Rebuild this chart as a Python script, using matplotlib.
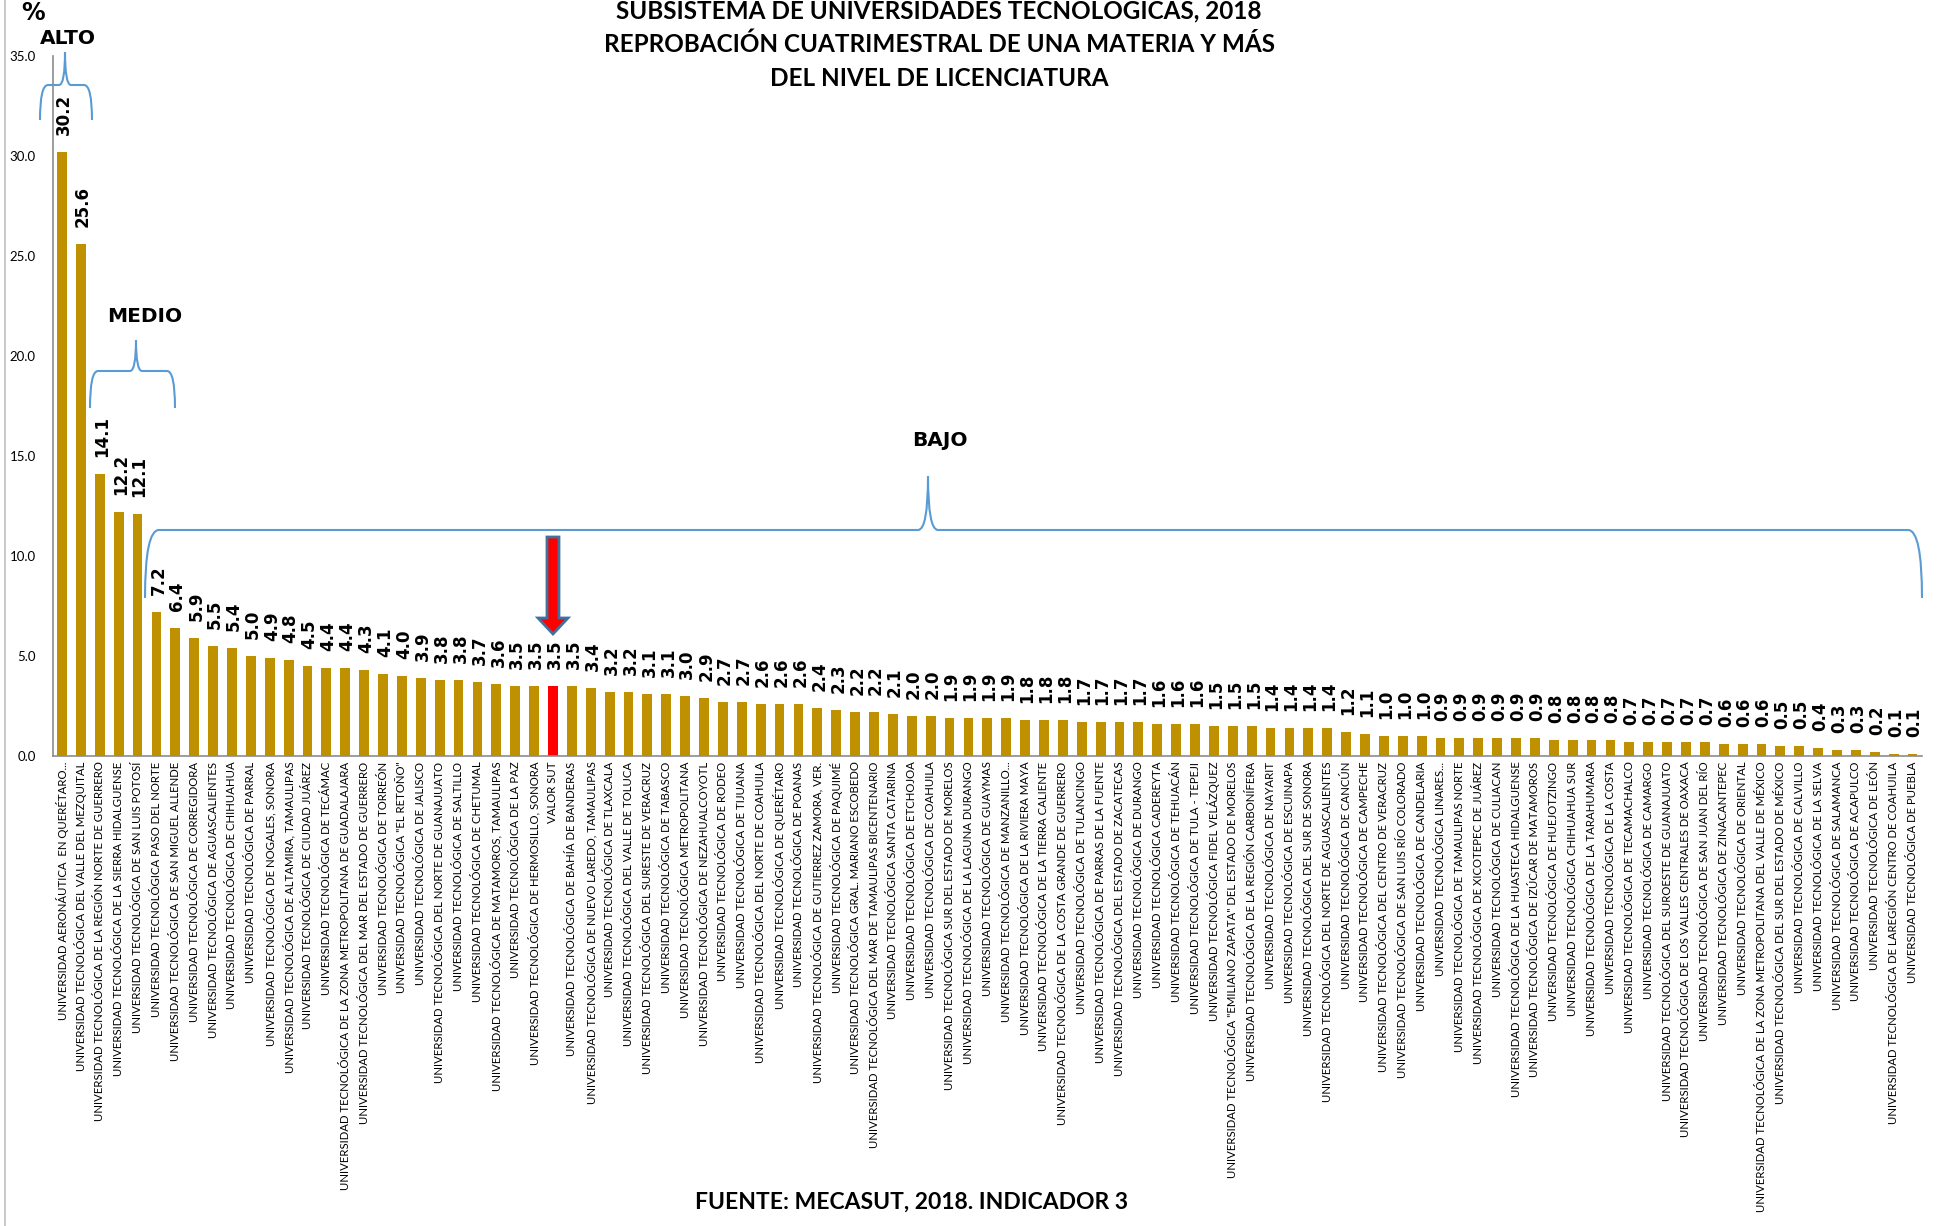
import matplotlib
matplotlib.use("Agg")
import matplotlib.pyplot as plt
from matplotlib.path import Path
from matplotlib.patches import PathPatch, Polygon
from matplotlib.lines import Line2D

categories = [
    "UNIVERSIDAD AERONÁUTICA  EN QUERÉTARO...",
    "UNIVERSIDAD TECNOLÓGICA DEL VALLE DEL MEZQUITAL",
    "UNIVERSIDAD TECNOLÓGICA DE LA REGIÓN NORTE DE GUERRERO",
    "UNIVERSIDAD TECNOLÓGICA DE LA SIERRA HIDALGUENSE",
    "UNIVERSIDAD TECNOLÓGICA DE SAN LUIS POTOSÍ",
    "UNIVERSIDAD TECNOLÓGICA PASO DEL NORTE",
    "UNIVERSIDAD TECNOLÓGICA DE SAN MIGUEL ALLENDE",
    "UNIVERSIDAD TECNOLÓGICA DE CORREGIDORA",
    "UNIVERSIDAD TECNOLÓGICA DE AGUASCALIENTES",
    "UNIVERSIDAD TECNOLÓGICA DE CHIHUAHUA",
    "UNIVERSIDAD TECNOLÓGICA DE PARRAL",
    "UNIVERSIDAD TECNOLÓGICA DE NOGALES, SONORA",
    "UNIVERSIDAD TECNOLÓGICA DE ALTAMIRA, TAMAULIPAS",
    "UNIVERSIDAD TECNOLÓGICA DE CIUDAD JUÁREZ",
    "UNIVERSIDAD TECNOLÓGICA DE TECÁMAC",
    "UNIVERSIDAD TECNOLÓGICA DE LA ZONA METROPOLITANA DE GUADALAJARA",
    "UNIVERSIDAD TECNOLÓGICA DEL MAR DEL ESTADO DE GUERRERO",
    "UNIVERSIDAD TECNOLÓGICA DE TORREÓN",
    "UNIVERSIDAD TECNOLÓGICA \"EL RETOÑO\"",
    "UNIVERSIDAD TECNOLÓGICA DE JALISCO",
    "UNIVERSIDAD TECNOLÓGICA DEL NORTE DE GUANAJUATO",
    "UNIVERSIDAD TECNOLÓGICA DE SALTILLO",
    "UNIVERSIDAD TECNOLÓGICA DE CHETUMAL",
    "UNIVERSIDAD TECNOLÓGICA DE MATAMOROS, TAMAULIPAS",
    "UNIVERSIDAD TECNOLÓGICA DE LA PAZ",
    "UNIVERSIDAD TECNOLÓGICA DE HERMOSILLO, SONORA",
    "VALOR SUT",
    "UNIVERSIDAD TECNOLÓGICA DE BAHÍA DE BANDERAS",
    "UNIVERSIDAD TECNOLÓGICA DE NUEVO LAREDO, TAMAULIPAS",
    "UNIVERSIDAD TECNOLÓGICA DE TLAXCALA",
    "UNIVERSIDAD TECNOLÓGICA DEL VALLE DE TOLUCA",
    "UNIVERSIDAD TECNOLÓGICA DEL SURESTE DE VERACRUZ",
    "UNIVERSIDAD TECNOLÓGICA DE TABASCO",
    "UNIVERSIDAD TECNOLÓGICA METROPOLITANA",
    "UNIVERSIDAD TECNOLÓGICA DE NEZAHUALCOYOTL",
    "UNIVERSIDAD TECNOLÓGICA DE RODEO",
    "UNIVERSIDAD TECNOLÓGICA DE TIJUANA",
    "UNIVERSIDAD TECNOLÓGICA DEL NORTE DE COAHUILA",
    "UNIVERSIDAD TECNOLÓGICA DE QUERÉTARO",
    "UNIVERSIDAD TECNOLÓGICA DE POANAS",
    "UNIVERSIDAD TECNOLÓGICA DE GUTIERREZ ZAMORA, VER.",
    "UNIVERSIDAD TECNOLÓGICA DE PAQUIMÉ",
    "UNIVERSIDAD TECNOLÓGICA GRAL. MARIANO ESCOBEDO",
    "UNIVERSIDAD TECNOLÓGICA DEL MAR DE TAMAULIPAS BICENTENARIO",
    "UNIVERSIDAD TECNOLÓGICA SANTA CATARINA",
    "UNIVERSIDAD TECNOLÓGICA DE ETCHOJOA",
    "UNIVERSIDAD TECNOLÓGICA DE COAHUILA",
    "UNIVERSIDAD TECNOLÓGICA SUR DEL ESTADO DE MORELOS",
    "UNIVERSIDAD TECNOLÓGICA DE LA LAGUNA DURANGO",
    "UNIVERSIDAD TECNOLÓGICA DE GUAYMAS",
    "UNIVERSIDAD TECNOLÓGICA DE MANZANILLO...",
    "UNIVERSIDAD TECNOLÓGICA DE LA RIVIERA MAYA",
    "UNIVERSIDAD TECNOLÓGICA DE LA TIERRA CALIENTE",
    "UNIVERSIDAD TECNOLÓGICA DE LA COSTA GRANDE DE GUERRERO",
    "UNIVERSIDAD TECNOLÓGICA DE TULANCINGO",
    "UNIVERSIDAD TECNOLÓGICA DE PARRAS DE LA FUENTE",
    "UNIVERSIDAD TECNOLÓGICA DEL ESTADO DE ZACATECAS",
    "UNIVERSIDAD TECNOLÓGICA DE DURANGO",
    "UNIVERSIDAD TECNOLÓGICA CADEREYTA",
    "UNIVERSIDAD TECNOLÓGICA DE TEHUACÁN",
    "UNIVERSIDAD TECNOLÓGICA DE TULA - TEPEJI",
    "UNIVERSIDAD TECNOLÓGICA FIDEL VELÁZQUEZ",
    "UNIVERSIDAD TECNOLÓGICA \"EMILIANO ZAPATA\" DEL ESTADO DE MORELOS",
    "UNIVERSIDAD TECNOLÓGICA DE LA REGIÓN CARBONÍFERA",
    "UNIVERSIDAD TECNOLÓGICA DE NAYARIT",
    "UNIVERSIDAD TECNOLÓGICA DE ESCUINAPA",
    "UNIVERSIDAD TECNOLÓGICA DEL SUR DE SONORA",
    "UNIVERSIDAD TECNOLÓGICA DEL NORTE DE AGUASCALIENTES",
    "UNIVERSIDAD TECNOLÓGICA DE CANCÚN",
    "UNIVERSIDAD TECNOLÓGICA DE CAMPECHE",
    "UNIVERSIDAD TECNOLÓGICA DEL CENTRO DE VERACRUZ",
    "UNIVERSIDAD TECNOLÓGICA DE SAN LUIS RÍO COLORADO",
    "UNIVERSIDAD TECNOLÓGICA DE CANDELARIA",
    "UNIVERSIDAD TECNOLÓGICA LINARES...",
    "UNIVERSIDAD TECNOLÓGICA DE TAMAULIPAS NORTE",
    "UNIVERSIDAD TECNOLÓGICA DE XICOTEPEC DE JUÁREZ",
    "UNIVERSIDAD TECNOLÓGICA DE CULIACAN",
    "UNIVERSIDAD TECNOLÓGICA DE LA HUASTECA HIDALGUENSE",
    "UNIVERSIDAD TECNOLÓGICA DE IZÚCAR DE MATAMOROS",
    "UNIVERSIDAD TECNOLÓGICA DE HUEJOTZINGO",
    "UNIVERSIDAD TECNOLÓGICA CHIHUAHUA SUR",
    "UNIVERSIDAD TECNOLÓGICA DE LA TARAHUMARA",
    "UNIVERSIDAD TECNOLÓGICA DE LA COSTA",
    "UNIVERSIDAD TECNOLÓGICA DE TECAMACHALCO",
    "UNIVERSIDAD TECNOLÓGICA DE CAMARGO",
    "UNIVERSIDAD TECNOLÓGICA DEL SUROESTE DE GUANAJUATO",
    "UNIVERSIDAD TECNOLÓGICA DE LOS VALLES CENTRALES DE OAXACA",
    "UNIVERSIDAD TECNOLÓGICA DE SAN JUAN DEL RÍO",
    "UNIVERSIDAD TECNOLÓGICA DE ZINACANTEPEC",
    "UNIVERSIDAD TECNOLÓGICA DE ORIENTAL",
    "UNIVERSIDAD TECNOLÓGICA DE LA ZONA METROPOLITANA DEL VALLE DE MÉXICO",
    "UNIVERSIDAD TECNOLÓGICA DEL SUR DEL ESTADO DE MÉXICO",
    "UNIVERSIDAD TECNOLÓGICA DE CALVILLO",
    "UNIVERSIDAD TECNOLÓGICA DE LA SELVA",
    "UNIVERSIDAD TECNOLÓGICA DE SALAMANCA",
    "UNIVERSIDAD TECNOLÓGICA DE ACAPULCO",
    "UNIVERSIDAD TECNOLÓGICA DE LEÓN",
    "UNIVERSIDAD TECNOLÓGICA DE LAREGIÓN CENTRO DE COAHUILA",
    "UNIVERSIDAD TECNOLÓGICA DE PUEBLA",
]

values = [
    30.2, 25.6, 14.1, 12.2, 12.1, 7.2, 6.4, 5.9, 5.5, 5.4,
    5.0, 4.9, 4.8, 4.5, 4.4, 4.4, 4.3, 4.1, 4.0, 3.9,
    3.8, 3.8, 3.7, 3.6, 3.5, 3.5, 3.5, 3.5, 3.4, 3.2,
    3.2, 3.1, 3.1, 3.0, 2.9, 2.7, 2.7, 2.6, 2.6, 2.6,
    2.4, 2.3, 2.2, 2.2, 2.1, 2.0, 2.0, 1.9, 1.9, 1.9,
    1.9, 1.8, 1.8, 1.8, 1.7, 1.7, 1.7, 1.7, 1.6, 1.6,
    1.6, 1.5, 1.5, 1.5, 1.4, 1.4, 1.4, 1.4, 1.2, 1.1,
    1.0, 1.0, 1.0, 0.9, 0.9, 0.9, 0.9, 0.9, 0.9, 0.8,
    0.8, 0.8, 0.8, 0.7, 0.7, 0.7, 0.7, 0.7, 0.6, 0.6,
    0.6, 0.5, 0.5, 0.4, 0.3, 0.3, 0.2, 0.1, 0.1,
]

yticks = [0, 5, 10, 15, 20, 25, 30, 35]
title_lines = ["SUBSISTEMA DE UNIVERSIDADES TECNOLÓGICAS, 2018",
               "REPROBACIÓN CUATRIMESTRAL DE UNA MATERIA Y MÁS",
               "DEL NIVEL DE LICENCIATURA"]
source_text = "FUENTE: MECASUT, 2018. INDICADOR 3"
highlight = "VALOR SUT"

W, H = 1937, 1226
fig = plt.figure(figsize=(W / 100, H / 100), dpi=100)
fig.patch.set_facecolor("white")


def fx(px):
    return px / W


def fy(py):
    return 1 - py / H


ax = fig.add_axes([fx(52.6), fy(756), fx(1922) - fx(52.6), fy(56) - fy(756)])

gold = "#BF9000"
colors = ["#FF0000" if c == highlight else gold for c in categories]
x = list(range(len(categories)))
ax.bar(x, values, width=0.52, color=colors, zorder=2)

ax.set_xlim(-0.5, len(categories) - 0.5)
ax.set_ylim(0, 35)
ax.set_yticks(yticks)
ax.set_yticklabels([f"{v:.1f}" for v in yticks], fontsize=9.5, family="Lato")
ax.tick_params(axis="y", length=0, pad=12)
ax.set_xticks(x)
ax.set_xticklabels(categories, rotation=90, fontsize=8.2, family="Lato")
ax.tick_params(axis="x", length=0, pad=4)

for s in ["top", "right"]:
    ax.spines[s].set_visible(False)
for s in ["left", "bottom"]:
    ax.spines[s].set_color("#8C8C8C")
    ax.spines[s].set_linewidth(1.2)

for xi, v in zip(x, values):
    ax.annotate(f"{v:.1f}", (xi, v), xytext=(1.5, 12), textcoords="offset points",
                rotation=90, ha="center", va="bottom", fontsize=12,
                fontweight="bold", family="DejaVu Sans")

# Titles
for ty, line in zip([10, 44, 79], title_lines):
    fig.text(fx(939), fy(ty), line, ha="center", va="center", fontsize=17.5,
             fontweight="bold", family="Lato")
fig.text(fx(912), fy(1202), source_text, ha="center", va="center",
         fontsize=16.5, fontweight="bold", family="Lato")
fig.text(fx(33), fy(13), "%", ha="center", va="center", fontsize=17,
         fontweight="bold", family="DejaVu Sans")
fig.text(fx(68), fy(38), "ALTO", ha="center", va="center", fontsize=14.5,
         fontweight="bold", family="DejaVu Sans")
fig.text(fx(145), fy(316), "MEDIO", ha="center", va="center", fontsize=14.5,
         fontweight="bold", family="DejaVu Sans")
fig.text(fx(940), fy(440), "BAJO", ha="center", va="center", fontsize=14.5,
         fontweight="bold", family="DejaVu Sans")

# left border line
fig.add_artist(Line2D([fx(5), fx(5)], [0, 1], color="#BFBFBF", lw=1.2,
                      transform=fig.transFigure))


def brace(x0, x1, xm, y_h, y_tip, y_end, r=10, r2=8):
    pts = [(x0, y_end), (x0, y_h), (x0 + r, y_h), (xm - r2, y_h),
           (xm, y_h), (xm, y_tip), (xm, y_h), (xm + r2, y_h),
           (x1 - r, y_h), (x1, y_h), (x1, y_end)]
    codes = [Path.MOVETO, Path.CURVE3, Path.CURVE3, Path.LINETO,
             Path.CURVE3, Path.CURVE3, Path.CURVE3, Path.CURVE3,
             Path.LINETO, Path.CURVE3, Path.CURVE3]
    verts = [(fx(a), fy(b)) for a, b in pts]
    fig.add_artist(PathPatch(Path(verts, codes), fill=False, edgecolor="#5B9BD5",
                             lw=1.5, transform=fig.transFigure))


brace(40, 92, 65, 85, 52, 120, r=8, r2=6)
brace(90, 175, 136, 371, 340, 408, r=8, r2=6)
brace(145, 1922, 928, 530, 476, 598, r=14, r2=10)

# arrow pointing to highlighted bar
sut_i = categories.index(highlight)
cx = ax.transData.transform((sut_i, 0))[0]
top, bot = 537, 634
sh, hh, hl = 6, 15, 16
arrow_pts = [(cx - sh, top), (cx + sh, top), (cx + sh, bot - hl), (cx + hh, bot - hl),
             (cx, bot), (cx - hh, bot - hl), (cx - sh, bot - hl)]
fig.add_artist(Polygon([(fx(a), fy(b)) for a, b in arrow_pts], closed=True,
                       facecolor="#FF0000", edgecolor="#41719C", lw=2,
                       transform=fig.transFigure, joinstyle="miter"))

fig.savefig("out.png", dpi=100, facecolor="white")
